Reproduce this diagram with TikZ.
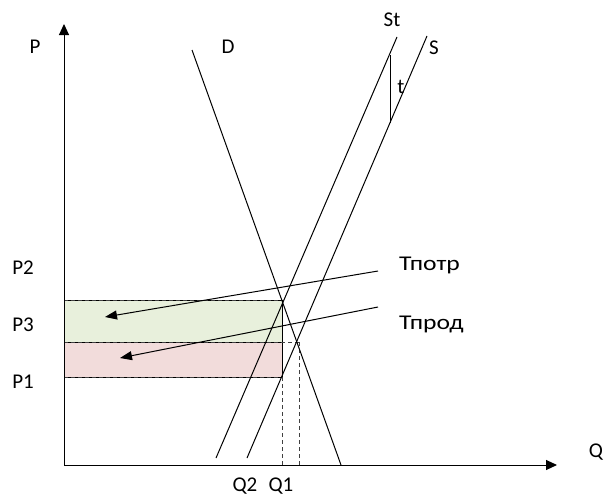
\documentclass[tikz,border=0pt]{standalone}
\usepackage{fontspec}
\setmainfont{Carlito}
\usepackage{tikz}
\usetikzlibrary{arrows.meta}

\definecolor{consfill}{RGB}{232,240,220}
\definecolor{prodfill}{RGB}{242,220,219}

\begin{document}
\begin{tikzpicture}[
    x=1pt, y=-1pt,
    lbl/.style={font=\fontsize{21}{24}\selectfont, inner sep=0pt},
    curve/.style={line width=1pt},
    guide/.style={dash pattern=on 4pt off 3pt, line width=0.9pt, draw=black!75},
    axis/.style={-{Triangle[length=11pt,width=10pt]}, line width=1pt},
    burden/.style={-{Triangle[length=12pt,width=9pt]}, line width=1pt}
]
\useasboundingbox (0,0) rectangle (608,498);

% Axes
\coordinate (O)    at (64,465);
\coordinate (ytop) at (64,24);
\coordinate (xend) at (557,465);

% Prices and quantities
\coordinate (p2l) at (64,300);  \coordinate (p2r) at (282,300);
\coordinate (p3l) at (64,342);  \coordinate (p3r) at (282,342);
\coordinate (p1l) at (64,377);  \coordinate (p1r) at (282,377);
\coordinate (e1)  at (299,342);
\coordinate (q2)  at (282,465);
\coordinate (q1)  at (299,465);

% Tax burden areas
\fill[consfill] (p2l) rectangle (p3r);
\fill[prodfill] (p3l) rectangle (p1r);
\draw[curve] (p2l) -- (p2r) -- (p1r) -- (p1l);
\draw[curve] (p3l) -- (p3r);

% Dashed guides
\draw[guide] (p2l) -- (p2r);
\draw[guide] (p3l) -- (e1);
\draw[guide] (p1l) -- (p1r);
\draw[guide] (p1r) -- (q2);
\draw[guide] (e1) -- (q1);

% Demand and supply lines
\coordinate (d1)  at (192,50);   \coordinate (d2)  at (341,465);
\coordinate (st1) at (216,458);  \coordinate (st2) at (397,37);
\coordinate (s1)  at (247,458);  \coordinate (s2)  at (427,36);
\coordinate (t1)  at (390,55);   \coordinate (t2)  at (390,123);
\draw[curve] (d1) -- (d2);
\draw[curve] (st1) -- (st2);
\draw[curve] (s1) -- (s2);
\draw[curve] (t1) -- (t2);

\draw[axis] (O) -- (ytop);
\draw[axis] (O) -- (xend);

% Labels
\node[lbl] (lP)  at (35,47)   {P};
\node[lbl] (lQ)  at (596,452) {Q};
\node[lbl] (lD)  at (228,47)  {D};
\node[lbl] (lSt) at (392,20)  {St};
\node[lbl] (lS)  at (434,48)  {S};
\node[lbl] (lt)  at (401,87)  {t};
\node[lbl] (lP2) at (23,268)  {P2};
\node[lbl] (lP3) at (23,325)  {P3};
\node[lbl] (lP1) at (23,382)  {P1};
\node[lbl] (lQ2) at (245,486) {Q2};
\node[lbl] (lQ1) at (281,486) {Q1};
\node[lbl, anchor=west] (cons) at (399,265) {\scalebox{1.22}[1]{Тпотр}};
\node[lbl, anchor=west] (prod) at (399,324) {\scalebox{1.22}[1]{Тпрод}};

% Tax incidence arrows
\coordinate (c1) at (378,271);  \coordinate (c2) at (105,317);
\coordinate (r1) at (378,307);  \coordinate (r2) at (120,358);
\draw[burden] (c1) -- (c2);
\draw[burden] (r1) -- (r2);
\end{tikzpicture}
\end{document}
